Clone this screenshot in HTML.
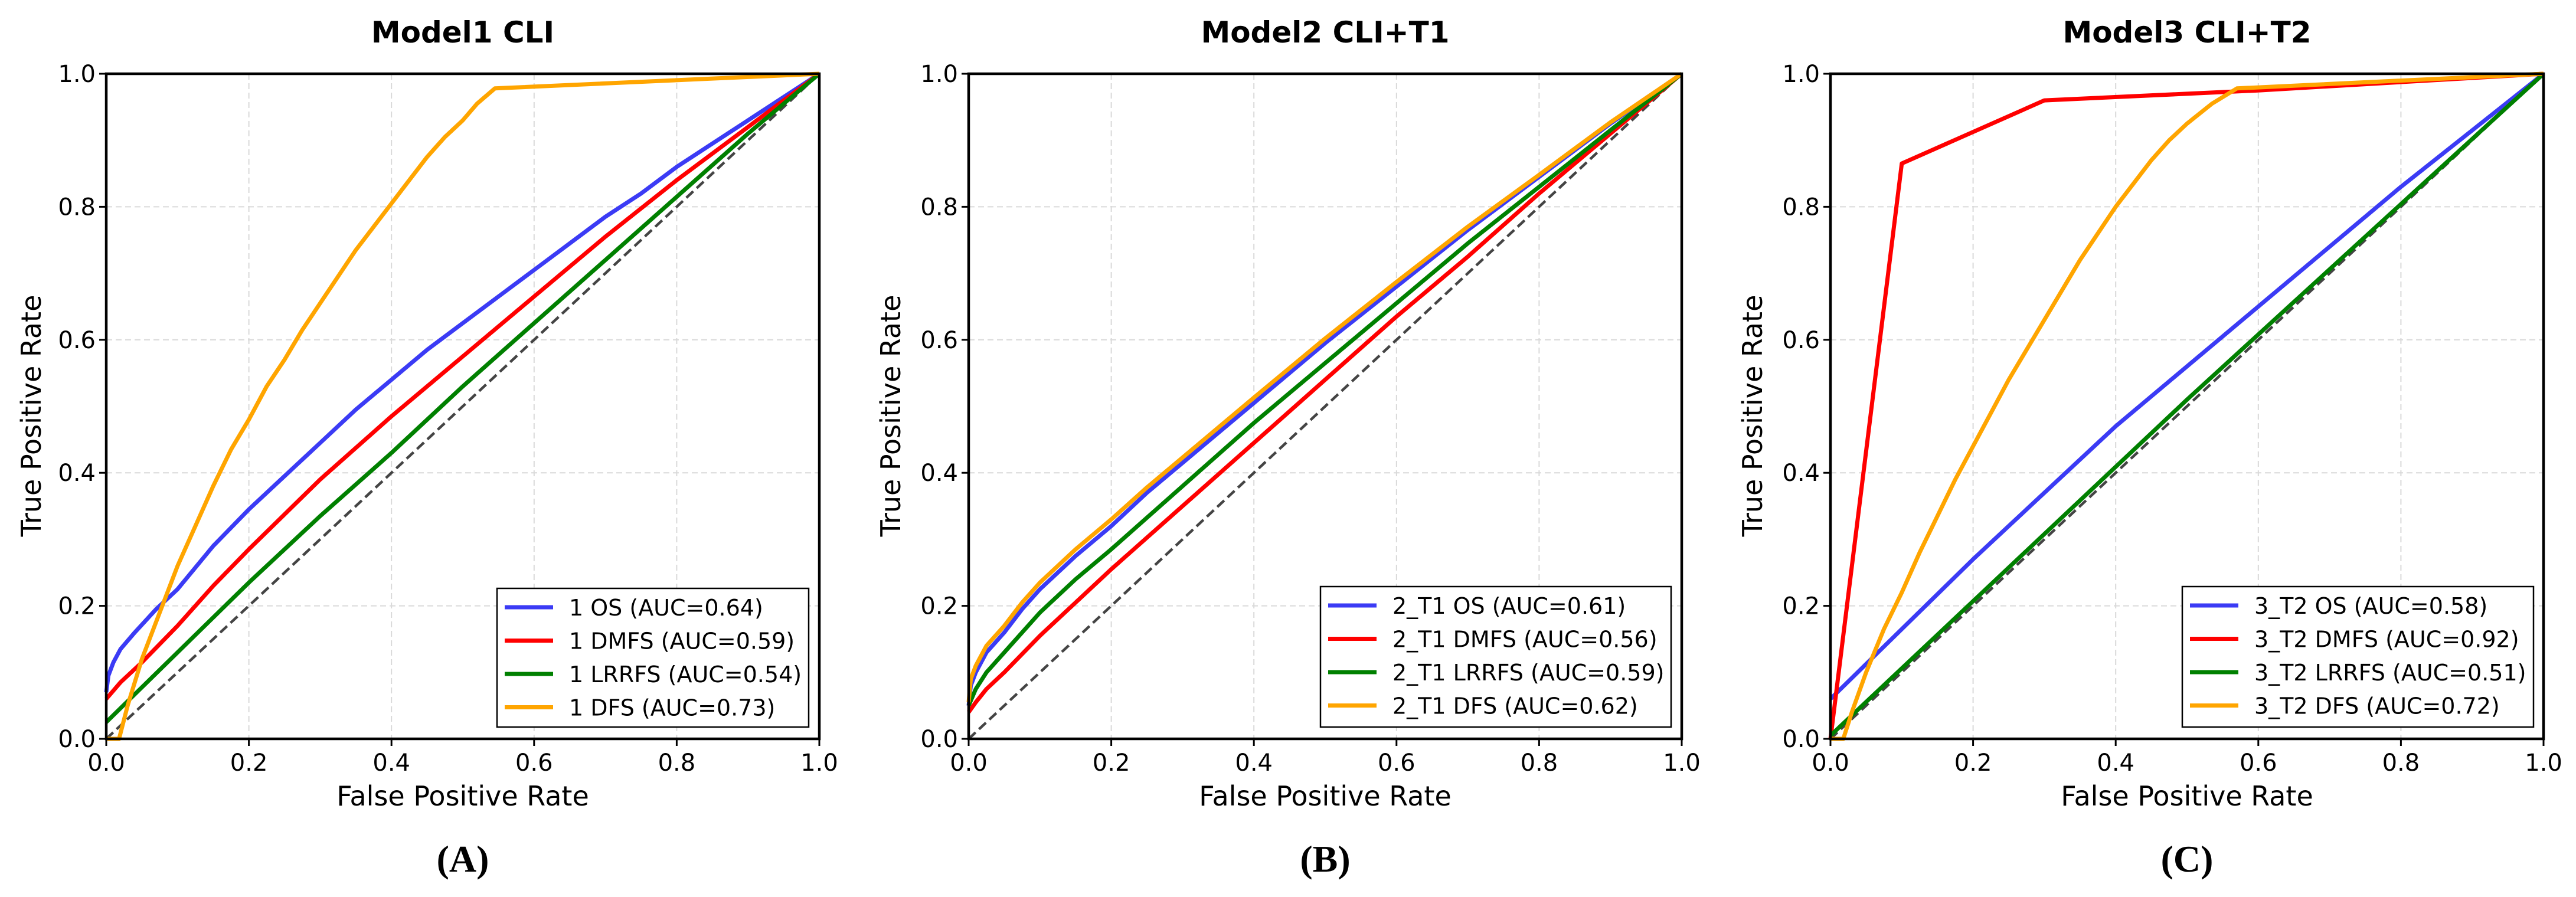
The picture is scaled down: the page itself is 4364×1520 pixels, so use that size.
<!DOCTYPE html>
<html><head><meta charset="utf-8"><style>
html,body{margin:0;padding:0;background:#fff;}
svg{display:block;}
text{font-family:"DejaVu Sans","Liberation Sans",sans-serif;fill:#000;}
</style></head>
<body>
<svg id="fig" width="4364" height="1520" viewBox="0 0 4364 1520" xmlns="http://www.w3.org/2000/svg"></svg>
<script>
// ---- data ----
const ticks = [0, 0.2, 0.4, 0.6, 0.8, 1.0];
const tickLabels = ["0.0", "0.2", "0.4", "0.6", "0.8", "1.0"];
const panelTitles = ["Model1 CLI", "Model2 CLI+T1", "Model3 CLI+T2"];
const panelLetters = ["(A)", "(B)", "(C)"];
const seriesColors = ["#3b3bf5", "#ff0000", "#008000", "#ffa500"];
const legendA = ["1 OS (AUC=0.64)", "1 DMFS (AUC=0.59)", "1 LRRFS (AUC=0.54)", "1 DFS (AUC=0.73)"];
const legendB = ["2_T1 OS (AUC=0.61)", "2_T1 DMFS (AUC=0.56)", "2_T1 LRRFS (AUC=0.59)", "2_T1 DFS (AUC=0.62)"];
const legendC = ["3_T2 OS (AUC=0.58)", "3_T2 DMFS (AUC=0.92)", "3_T2 LRRFS (AUC=0.51)", "3_T2 DFS (AUC=0.72)"];
// panel A
const aOsX = [0,0.003,0.01,0.02,0.04,0.07,0.1,0.15,0.2,0.25,0.3,0.35,0.4,0.45,0.5,0.55,0.6,0.65,0.7,0.75,0.8,0.85,0.9,0.95,1];
const aOsY = [0.07,0.095,0.115,0.135,0.16,0.195,0.225,0.29,0.345,0.395,0.445,0.495,0.54,0.585,0.625,0.665,0.705,0.745,0.785,0.82,0.86,0.895,0.93,0.965,1];
const aDmX = [0,0.02,0.05,0.1,0.15,0.2,0.3,0.4,0.5,0.6,0.7,0.8,0.9,1];
const aDmY = [0.06,0.085,0.115,0.17,0.23,0.285,0.39,0.485,0.575,0.665,0.755,0.84,0.92,1];
const aLrX = [0,0.1,0.2,0.3,0.4,0.5,0.6,0.7,0.8,0.9,1];
const aLrY = [0.025,0.13,0.235,0.335,0.43,0.53,0.625,0.72,0.815,0.91,1];
const aDfX = [0,0.018,0.03,0.05,0.075,0.1,0.125,0.15,0.175,0.2,0.225,0.25,0.275,0.3,0.325,0.35,0.375,0.4,0.425,0.45,0.475,0.5,0.52,0.545,1];
const aDfY = [0,0,0.05,0.12,0.19,0.26,0.32,0.38,0.435,0.48,0.53,0.57,0.615,0.655,0.695,0.735,0.77,0.805,0.84,0.875,0.905,0.93,0.955,0.978,1];
// panel B
const bOsX = [0,0.003,0.01,0.025,0.05,0.075,0.1,0.15,0.2,0.25,0.3,0.35,0.4,0.5,0.6,0.7,0.8,0.9,1];
const bOsY = [0.05,0.08,0.1,0.13,0.16,0.195,0.225,0.275,0.32,0.37,0.415,0.46,0.505,0.595,0.68,0.765,0.845,0.925,1];
const bDmX = [0,0.01,0.025,0.05,0.1,0.15,0.2,0.3,0.4,0.5,0.6,0.7,0.8,0.9,1];
const bDmY = [0.04,0.055,0.075,0.1,0.155,0.205,0.255,0.35,0.445,0.54,0.635,0.725,0.82,0.91,1];
const bLrX = [0,0.01,0.025,0.05,0.1,0.15,0.2,0.3,0.4,0.5,0.6,0.7,0.8,0.9,1];
const bLrY = [0.05,0.075,0.1,0.13,0.19,0.24,0.285,0.38,0.475,0.565,0.655,0.745,0.83,0.915,1];
const bDfX = [0,0.003,0.01,0.025,0.05,0.075,0.1,0.15,0.2,0.25,0.3,0.35,0.4,0.5,0.6,0.7,0.8,0.9,1];
const bDfY = [0.055,0.09,0.11,0.14,0.17,0.205,0.235,0.285,0.33,0.378,0.423,0.468,0.513,0.602,0.687,0.77,0.848,0.927,1];
// panel C
const cOsX = [0,0.2,0.4,0.6,0.8,1];
const cOsY = [0.06,0.27,0.47,0.65,0.83,1];
const cDmX = [0,0.1,0.3,0.6,1];
const cDmY = [0,0.865,0.96,0.975,1];
const cLrX = [0,0.5,1];
const cLrY = [0.005,0.51,1];
const cDfX = [0,0.018,0.03,0.05,0.075,0.1,0.125,0.15,0.175,0.2,0.225,0.25,0.275,0.3,0.325,0.35,0.375,0.4,0.425,0.45,0.475,0.5,0.535,0.57,1];
const cDfY = [0,0,0.04,0.1,0.165,0.22,0.28,0.335,0.39,0.44,0.49,0.54,0.585,0.63,0.675,0.72,0.76,0.80,0.835,0.87,0.9,0.925,0.955,0.978,1];

const panels = [
  {x0:180, ylab:53, leg:[842,997,528,235], legends:legendA,
   series:[[aOsX,aOsY],[aDmX,aDmY],[aLrX,aLrY],[aDfX,aDfY]], order:[0,1,2,3]},
  {x0:1641, ylab:1509, leg:[2237,994,594,238], legends:legendB,
   series:[[bOsX,bOsY],[bDmX,bDmY],[bLrX,bLrY],[bDfX,bDfY]], order:[0,1,2,3]},
  {x0:3101, ylab:2969, leg:[3697,994,595,238], legends:legendC,
   series:[[cOsX,cOsY],[cDmX,cDmY],[cLrX,cLrY],[cDfX,cDfY]], order:[0,1,2,3]}
];
const names = ["os","dmfs","lrrfs","dfs"];
const W = 1208, Y0 = 125, H = 1127;
const svg = document.getElementById('fig');
const NS = "http://www.w3.org/2000/svg";
function el(tag, attrs, parent){ const e=document.createElementNS(NS,tag); for(const k in attrs) e.setAttribute(k,attrs[k]); (parent||svg).appendChild(e); return e; }

panels.forEach((p,pi)=>{
  const sx = v => p.x0 + v*W;
  const sy = v => Y0 + H - v*H;
  const g = el('g',{});
  
  
  ticks.forEach(t=>{
    if(t>0 && t<1){
      const gx=el('line',{x1:sx(t),x2:sx(t),y1:Y0,y2:Y0+H,stroke:'#d9d9d9','stroke-width':2,'stroke-dasharray':'10,6'},g);
      
      
      const gy=el('line',{x1:p.x0,x2:p.x0+W,y1:sy(t),y2:sy(t),stroke:'#d9d9d9','stroke-width':2,'stroke-dasharray':'10,6'},g);
      
      
    }
  });
  const d=el('line',{x1:sx(0),y1:sy(0),x2:sx(1),y2:sy(1),stroke:'#444','stroke-width':4.5,'stroke-dasharray':'16,8'},g);
  
  
  p.order.forEach(i=>{
    const [xs,ys]=p.series[i];
    const pts=xs.map((x,k)=>sx(x).toFixed(1)+','+sy(ys[k]).toFixed(1)).join(' ');
    const pl=el('polyline',{points:pts,fill:'none',stroke:seriesColors[i],'stroke-width':7,'stroke-linejoin':'round','stroke-linecap':'butt'},g);
    
    
  });
  const fr=el('rect',{x:p.x0,y:Y0,width:W,height:H,fill:'none',stroke:'#000','stroke-width':4.5},g);
  
  
  ticks.forEach((t,k)=>{
    el('line',{x1:sx(t),x2:sx(t),y1:Y0+H,y2:Y0+H+12,stroke:'#000','stroke-width':3},g);
    const tx=el('text',{x:sx(t),y:Y0+H+54,'font-size':40,'text-anchor':'middle'},g);
    tx.textContent=tickLabels[k];
    
    
    el('line',{x1:p.x0-12,x2:p.x0,y1:sy(t),y2:sy(t),stroke:'#000','stroke-width':3},g);
    const ty=el('text',{x:p.x0-18,y:sy(t)+14,'font-size':40,'text-anchor':'end'},g);
    ty.textContent=tickLabels[k];
    
    
  });
  const ti=el('text',{x:p.x0+W/2,y:72,'font-size':50,'font-weight':'bold','text-anchor':'middle'},g);
  ti.textContent=panelTitles[pi];
  
  
  const xl=el('text',{x:p.x0+W/2,y:1365,'font-size':46,'text-anchor':'middle'},g);
  xl.textContent='False Positive Rate';
  
  
  const yl=el('text',{x:p.ylab,y:Y0+H/2,'font-size':46,'text-anchor':'middle',transform:'rotate(-90 '+(p.ylab+16)+' '+(Y0+H/2)+')'},g);
  yl.textContent='True Positive Rate';
  
  
  const lt=el('text',{x:p.x0+W/2,y:1477,'font-size':64,'font-weight':'bold','text-anchor':'middle',style:'font-family:"Liberation Serif",serif'},g);
  lt.textContent=panelLetters[pi];
  
  
  const [lx,ly,lw,lh]=p.leg;
  const lg=el('g',{},g);
  
  
  el('rect',{x:lx,y:ly,width:lw,height:lh,fill:'#fff',stroke:'#000','stroke-width':2.5},lg);
  p.legends.forEach((s,i)=>{
    const cy=ly+32+i*56.5;
    el('line',{x1:lx+13,x2:lx+95,y1:cy,y2:cy,stroke:seriesColors[i],'stroke-width':7},lg);
    const t=el('text',{x:lx+122,y:cy+14,'font-size':38},lg);
    t.textContent=s;
    
    
  });
});
</script>
</body></html>
